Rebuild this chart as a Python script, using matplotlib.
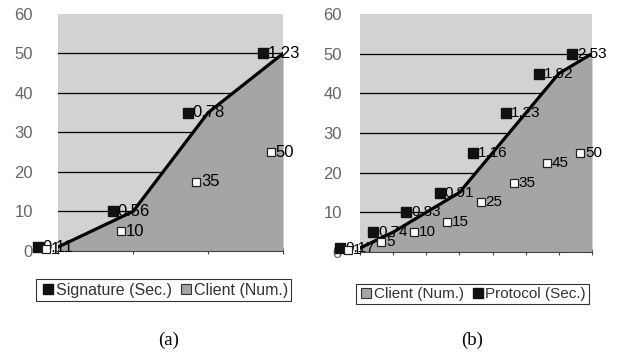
import numpy as np
import matplotlib.pyplot as plt
from matplotlib.lines import Line2D

# panel (a): signature time vs number of clients
clients_a = [1, 10, 35, 50]
signature_sec = [0.11, 0.56, 0.78, 1.23]

# panel (b): protocol time vs number of clients
clients_b = [1, 5, 10, 15, 25, 35, 45, 50]
protocol_sec = [0.17, 0.74, 0.83, 0.91, 1.16, 1.23, 1.92, 2.53]

yticks = [0, 10, 20, 30, 40, 50, 60]

bg = '#d2d2d2'
fill = '#a5a5a5'
tick_col = '#666666'

fig = plt.figure(figsize=(6.23, 3.55), dpi=100)
plt.rcParams['font.family'] = ['Liberation Sans', 'DejaVu Sans']


def panel(rect, clients, secs, off_sec, off_cli, labpad, fs):
    n = len(clients)
    x = np.arange(n)
    ax = fig.add_axes(rect)
    ax.set_facecolor(bg)
    ax.set_xlim(0, n - 1)
    ax.set_ylim(0, 60)
    for y in yticks[1:-1]:
        ax.axhline(y, color='black', lw=0.9, zorder=1)
    ax.fill_between(x, clients, color=fill, zorder=2, lw=0)
    ax.plot(x, clients, color='black', lw=2.3, zorder=3, solid_capstyle='round')
    for s in ['top', 'right', 'left']:
        ax.spines[s].set_visible(False)
    ax.spines['bottom'].set_color('#444444')
    ax.set_xticks(x)
    ax.set_xticklabels([])
    ax.tick_params(axis='x', direction='inout', length=4, color='#444444')
    ax.set_yticks(yticks)
    ax.tick_params(axis='y', length=0, pad=labpad, labelsize=12, labelcolor=tick_col)

    # hollow markers on hidden secondary scale (0-120)
    ax2 = ax.twinx()
    ax2.set_ylim(0, 120)
    ax2.axis('off')
    xc = x + off_cli
    ax2.plot(xc, clients, ls='none', marker='s', ms=5.5, mfc='white', mec='#222222',
             mew=0.9, clip_on=False, zorder=4)
    for xi, v in zip(xc, clients):
        ax2.annotate(str(v), (xi, v), xytext=(3.5, 0), textcoords='offset points',
                     va='center', ha='left', fontsize=fs, annotation_clip=False)

    # filled markers labelled with seconds
    xs = x + off_sec
    ax.plot(xs, clients, ls='none', marker='s', ms=6.5, color='#111111',
            clip_on=False, zorder=5)
    for xi, v, t in zip(xs, clients, secs):
        ax.annotate(f'{t:.2f}', (xi, v), xytext=(3.5, 0), textcoords='offset points',
                    va='center', ha='left', fontsize=fs, annotation_clip=False, zorder=6)
    return ax


ax_a = panel([0.0931, 0.2930, 0.3612, 0.6676], clients_a, signature_sec, -0.27, -0.16, 18, 12)
ax_b = panel([0.5778, 0.2901, 0.3724, 0.6704], clients_b, protocol_sec, -0.6, -0.36, 13, 11)

sq_dark = Line2D([], [], ls='none', marker='s', ms=6.5, color='#111111')
sq_gray = Line2D([], [], ls='none', marker='s', ms=6.5, mfc=fill, mec='#333333', mew=0.8)

fig.legend([sq_dark, sq_gray], ['Signature (Sec.)', 'Client (Num.)'], ncol=2,
           loc='center', bbox_to_anchor=(0.263, 0.183), fontsize=11.5, frameon=True,
           fancybox=False, edgecolor='black', handletextpad=0.0, columnspacing=0.4,
           handlelength=1.0, borderpad=0.2, labelcolor='#333333').get_frame().set_linewidth(0.8)
fig.legend([sq_gray, sq_dark], ['Client (Num.)', 'Protocol (Sec.)'], ncol=2,
           loc='center', bbox_to_anchor=(0.758, 0.172), fontsize=11, frameon=True,
           fancybox=False, edgecolor='black', handletextpad=0.0, columnspacing=0.4,
           handlelength=1.0, borderpad=0.2, labelcolor='#333333').get_frame().set_linewidth(0.8)

fig.text(0.27, 0.042, '(a)', ha='center', va='center', fontsize=13.5, family='Liberation Serif')
fig.text(0.758, 0.042, '(b)', ha='center', va='center', fontsize=13.5, family='Liberation Serif')

fig.savefig('out.png', dpi=100)
